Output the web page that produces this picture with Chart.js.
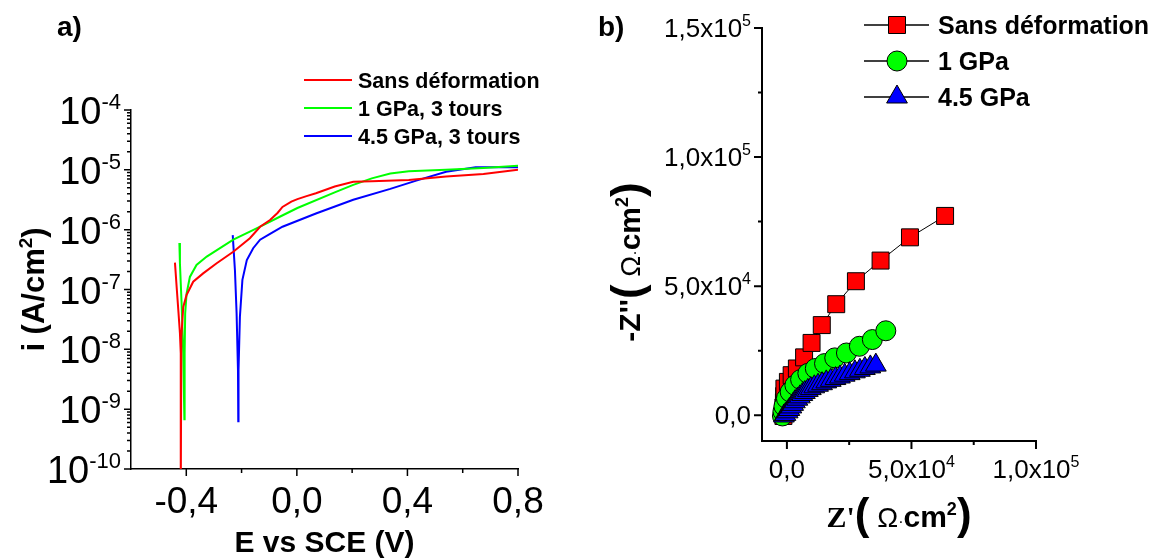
<!DOCTYPE html>
<html>
<head>
<meta charset="utf-8">
<script src="https://cdn.jsdelivr.net/npm/chart.js@4.4.0/dist/chart.umd.min.js"></script>
<style>
    html, body { margin: 0; padding: 0; background: #fff; }
    #wrap { position: relative; width: 1154px; height: 559px; }
    #wrap canvas { position: absolute; top: 0; }
</style>
</head>
<body>
<div id="wrap">
    <canvas id="chart-a" width="577" height="559" style="left:0"></canvas>
    <canvas id="chart-b" width="577" height="559" style="left:577px"></canvas>
</div>
<script>
// a) polarisation curves: potential (V vs SCE) and current density (A/cm2)
const potRed = [-0.441, -0.435, -0.428, -0.423, -0.420, -0.420, -0.418, -0.411, -0.399, -0.375, -0.339, -0.290, -0.230, -0.170, -0.133, -0.097, -0.070, -0.052, -0.020, 0.002, 0.035, 0.069, 0.137, 0.204, 0.271, 0.405, 0.540, 0.675, 0.800];
const curRed = [2.82e-7, 1.12e-7, 3.98e-8, 1.86e-8, 8.5e-9, 3.2e-11, 1.58e-8, 5.1e-8, 8.1e-8, 1.35e-7, 1.86e-7, 2.75e-7, 4.27e-7, 7.2e-7, 1.12e-6, 1.45e-6, 1.9e-6, 2.4e-6, 2.95e-6, 3.24e-6, 3.63e-6, 4.07e-6, 5.25e-6, 6.3e-6, 6.45e-6, 6.76e-6, 7.76e-6, 8.5e-6, 1.0e-5];
const potGreen = [-0.425, -0.423, -0.417, -0.411, -0.407, -0.406, -0.404, -0.399, -0.387, -0.363, -0.326, -0.278, -0.230, -0.170, -0.120, -0.060, 0.002, 0.137, 0.204, 0.271, 0.338, 0.405, 0.539, 0.675, 0.800];
const curGreen = [6.0e-7, 2.75e-7, 5.9e-8, 8.5e-9, 6.8e-10, 8.5e-9, 4.0e-8, 8.5e-8, 1.62e-7, 2.57e-7, 3.55e-7, 4.9e-7, 6.8e-7, 9.3e-7, 1.2e-6, 1.66e-6, 2.3e-6, 4.2e-6, 5.6e-6, 7.2e-6, 8.7e-6, 9.5e-6, 1.0e-5, 1.07e-5, 1.17e-5];
const potBlue = [-0.232, -0.224, -0.218, -0.213, -0.212, -0.211, -0.206, -0.197, -0.181, -0.158, -0.133, -0.097, -0.052, 0.069, 0.204, 0.338, 0.432, 0.540, 0.647, 0.800];
const curBlue = [8.1e-7, 2.1e-7, 4.0e-8, 4.5e-9, 6.3e-10, 4.5e-9, 3.5e-8, 1.45e-7, 3.1e-7, 4.9e-7, 6.8e-7, 8.5e-7, 1.12e-6, 1.86e-6, 3.16e-6, 4.8e-6, 6.6e-6, 9.3e-6, 1.1e-5, 1.1e-5];
const labelsA = ['Sans déformation', '1 GPa, 3 tours', '4.5 GPa, 3 tours'];

// b) Nyquist plots: Z' and -Z'' (ohm.cm2)
const zReRed = [-1.4e3, -1.5e3, -1.4e3, -1.2e3, -1.1e3, -1.0e3, 0.4e3, 1.9e3, 4.0e3, 6.9e3, 9.9e3, 1.40e4, 1.98e4, 2.77e4, 3.76e4, 4.94e4, 6.35e4];
const zImRed = [-0.3e3, 1.2e3, 3.0e3, 5.0e3, 7.4e3, 1.03e4, 1.29e4, 1.55e4, 1.81e4, 2.24e4, 2.80e4, 3.49e4, 4.30e4, 5.19e4, 5.99e4, 6.89e4, 7.72e4];
const zReGreen = [-1.8e3, -1.6e3, -1.2e3, -0.2e3, 1.3e3, 3.2e3, 5.5e3, 8.4e3, 1.14e4, 1.51e4, 1.92e4, 2.39e4, 2.91e4, 3.43e4, 3.97e4];
const zImGreen = [-0.3e3, 1.5e3, 3.5e3, 6.5e3, 9.0e3, 1.16e4, 1.38e4, 1.62e4, 1.81e4, 2.0e4, 2.22e4, 2.41e4, 2.67e4, 2.93e4, 3.27e4];
const zReBlue = [-1.2e3, -0.6e3, 0.3e3, 1.0e3, 1.8e3, 2.5e3, 3.2e3, 4.2e3, 5.2e3, 6.2e3, 7.2e3, 8.4e3, 9.6e3, 1.10e4, 1.25e4, 1.41e4, 1.58e4, 1.76e4, 1.95e4, 2.13e4, 2.32e4, 2.52e4, 2.73e4, 2.93e4, 3.13e4, 3.35e4, 3.57e4];
const zImBlue = [-0.3e3, 0.3e3, 1.3e3, 2.2e3, 3.2e3, 4.2e3, 5.2e3, 6.2e3, 7.1e3, 8.0e3, 8.8e3, 9.6e3, 1.03e4, 1.10e4, 1.16e4, 1.22e4, 1.29e4, 1.35e4, 1.42e4, 1.48e4, 1.55e4, 1.61e4, 1.68e4, 1.74e4, 1.81e4, 1.87e4, 1.94e4];
const labelsB = ['Sans déformation', '1 GPa', '4.5 GPa'];

// tick labels
const currentExps = [-4, -5, -6, -7, -8, -9, -10];
const potTicks = [-0.4, 0.0, 0.4, 0.8];
const potTickLabels = ['-0,4', '0,0', '0,4', '0,8'];
const potMinor = [-0.2, 0.2, 0.6];
const zReTicks = [0, 5e4, 1e5];
const zReTickLabels = [['0,0', ''], ['5,0x10', '4'], ['1,0x10', '5']];
const zReMinor = [2.5e4, 7.5e4];
const zImTicks = [0, 5e4, 1e5, 1.5e5];
const zImTickLabels = [['0,0', ''], ['5,0x10', '4'], ['1,0x10', '5'], ['1,5x10', '5']];
const zImMinor = [2.5e4, 7.5e4, 1.25e5];

const RED = '#ff0000', GREEN = '#00ff00', BLUE = '#0000ff';
const SANS = '"Liberation Sans", Arial, sans-serif';
const SERIF = '"Liberation Serif", "Times New Roman", serif';

function toXY(xs, ys) {
    return xs.map((v, i) => ({ x: v, y: ys[i] }));
}

// draws a row of text pieces [text, font, raise] starting/ending/centred at x
function drawRich(ctx, parts, x, y, align) {
    let total = 0;
    parts.forEach(p => { ctx.font = p[1]; total += ctx.measureText(p[0]).width; });
    let cx = align === 'right' ? x - total : (align === 'center' ? x - total / 2 : x);
    ctx.textAlign = 'left';
    ctx.textBaseline = 'alphabetic';
    parts.forEach(p => {
        ctx.font = p[1];
        ctx.fillText(p[0], cx, y - (p[2] || 0));
        cx += ctx.measureText(p[0]).width;
    });
}

function tickLine(ctx, x1, y1, x2, y2) {
    ctx.moveTo(x1, y1);
    ctx.lineTo(x2, y2);
}

// ---------- chart a decorations ----------
const decorA = {
    id: 'decorA',
    afterDraw(chart) {
        const { ctx, chartArea: a, scales: { x, y } } = chart;
        ctx.save();
        ctx.strokeStyle = '#000';
        ctx.fillStyle = '#000';
        ctx.lineWidth = 1.5;
        ctx.beginPath();
        currentExps.forEach(e => {
            const py = y.getPixelForValue(Math.pow(10, e));
            tickLine(ctx, a.left - 7, py, a.left, py);
            if (e < -4) {
                for (let k = 2; k <= 9; k++) {
                    const pm = y.getPixelForValue(k * Math.pow(10, e));
                    tickLine(ctx, a.left - 4, pm, a.left, pm);
                }
            }
        });
        potTicks.forEach(v => {
            const px = x.getPixelForValue(v);
            tickLine(ctx, px, a.bottom, px, a.bottom + 7);
        });
        potMinor.forEach(v => {
            const px = x.getPixelForValue(v);
            tickLine(ctx, px, a.bottom, px, a.bottom + 4);
        });
        ctx.stroke();

        // y tick labels 10^n
        currentExps.forEach(e => {
            const py = y.getPixelForValue(Math.pow(10, e));
            drawRich(ctx, [['10', '38px ' + SANS], [String(e), '22px ' + SANS, 15]], a.left - 10, py + 14, 'right');
        });
        // x tick labels
        potTicks.forEach((v, i) => {
            drawRich(ctx, [[potTickLabels[i], '37px ' + SANS]], x.getPixelForValue(v), a.bottom + 44, 'center');
        });

        // axis titles
        drawRich(ctx, [['E vs SCE (V)', 'bold 30px ' + SANS]], (a.left + a.right) / 2, 552, 'center');
        ctx.save();
        ctx.translate(44, (a.top + a.bottom) / 2);
        ctx.rotate(-Math.PI / 2);
        drawRich(ctx, [['i (A/cm', 'bold 31px ' + SANS], ['2', 'bold 19px ' + SANS, 12], [')', 'bold 31px ' + SANS]], 0, 0, 'center');
        ctx.restore();

        // panel label
        drawRich(ctx, [['a)', 'bold 28px ' + SANS]], 57, 36, 'left');

        // legend
        const colors = [RED, GREEN, BLUE];
        labelsA.forEach((t, i) => {
            const ly = 80 + i * 28;
            ctx.strokeStyle = colors[i];
            ctx.lineWidth = 2;
            ctx.beginPath();
            tickLine(ctx, 304, ly, 352, ly);
            ctx.stroke();
            drawRich(ctx, [[t, 'bold 21.5px ' + SANS]], 358, ly + 8, 'left');
        });
        ctx.restore();
    }
};

// ---------- chart b decorations ----------
function legendMarker(ctx, style, color, cx, cy) {
    ctx.fillStyle = color;
    ctx.strokeStyle = '#000';
    ctx.lineWidth = 1;
    ctx.beginPath();
    if (style === 'rect') {
        ctx.rect(cx - 8.5, cy - 8.5, 17, 17);
    } else if (style === 'circle') {
        ctx.arc(cx, cy, 10, 0, Math.PI * 2);
    } else {
        ctx.moveTo(cx, cy - 12);
        ctx.lineTo(cx + 10.4, cy + 6);
        ctx.lineTo(cx - 10.4, cy + 6);
        ctx.closePath();
    }
    ctx.fill();
    ctx.stroke();
}

const decorB = {
    id: 'decorB',
    afterDraw(chart) {
        const { ctx, chartArea: a, scales: { x, y } } = chart;
        ctx.save();
        ctx.strokeStyle = '#000';
        ctx.fillStyle = '#000';
        ctx.lineWidth = 2;
        ctx.beginPath();
        zImTicks.forEach(v => { const py = y.getPixelForValue(v); tickLine(ctx, a.left - 8, py, a.left, py); });
        zImMinor.forEach(v => { const py = y.getPixelForValue(v); tickLine(ctx, a.left - 4, py, a.left, py); });
        zReTicks.forEach(v => { const px = x.getPixelForValue(v); tickLine(ctx, px, a.bottom, px, a.bottom + 8); });
        zReMinor.forEach(v => { const px = x.getPixelForValue(v); tickLine(ctx, px, a.bottom, px, a.bottom + 4); });
        ctx.stroke();

        zImTicks.forEach((v, i) => {
            const lb = zImTickLabels[i];
            drawRich(ctx, [[lb[0], '26px ' + SANS], [lb[1], '16px ' + SANS, 11]], a.left - 11, y.getPixelForValue(v) + 9, 'right');
        });
        zReTicks.forEach((v, i) => {
            const lb = zReTickLabels[i];
            drawRich(ctx, [[lb[0], '26px ' + SANS], [lb[1], '16px ' + SANS, 11]], x.getPixelForValue(v), a.bottom + 37, 'center');
        });

        // axis titles
        const title = first => [
            first,
            ['(', 'bold 44px ' + SANS, -2],
            [' \u03A9', '28px ' + SANS],
            ['\u00B7', '16px ' + SANS],
            ['cm', 'bold 30px ' + SANS],
            ['2', 'bold 18px ' + SANS, 12],
            [')', 'bold 44px ' + SANS, -2]
        ];
        drawRich(ctx, title(["Z'", 'bold 30px ' + SERIF]), (a.left + a.right) / 2, 527, 'center');
        ctx.save();
        ctx.translate(640 - 577, 262);
        ctx.rotate(-Math.PI / 2);
        drawRich(ctx, title(["-Z''", 'bold 30px ' + SANS]), 0, 0, 'center');
        ctx.restore();

        // panel label
        drawRich(ctx, [['b)', 'bold 28px ' + SANS]], 598 - 577, 36, 'left');

        // legend
        const styles = ['rect', 'circle', 'triangle'];
        const colors = [RED, GREEN, BLUE];
        labelsB.forEach((t, i) => {
            const ly = 25 + i * 36;
            ctx.strokeStyle = '#000';
            ctx.lineWidth = 1.5;
            ctx.beginPath();
            tickLine(ctx, 864 - 577, ly, 929 - 577, ly);
            ctx.stroke();
            legendMarker(ctx, styles[i], colors[i], 897 - 577, ly);
            ctx.fillStyle = '#000';
            drawRich(ctx, [[t, 'bold 25px ' + SANS]], 938 - 577, ly + 9, 'left');
        });
        ctx.restore();
    }
};

function fixAxisX(height) {
    return s => { s.height = height; s.paddingLeft = 0; s.paddingRight = 0; };
}
function fixAxisY(width) {
    return s => { s.width = width; s.paddingTop = 0; s.paddingBottom = 0; };
}

const hiddenTicks = { display: false };
const noGrid = { display: false };

// Chart a
const chartA = new Chart(document.getElementById('chart-a'), {
    type: 'scatter',
    data: {
        datasets: [
            { label: labelsA[0], data: toXY(potRed, curRed), borderColor: RED },
            { label: labelsA[1], data: toXY(potGreen, curGreen), borderColor: GREEN },
            { label: labelsA[2], data: toXY(potBlue, curBlue), borderColor: BLUE }
        ].map(d => Object.assign(d, { showLine: true, borderWidth: 2, pointRadius: 0, tension: 0 }))
    },
    options: {
        responsive: false,
        animation: false,
        events: [],
        layout: { padding: { top: 110, right: 59, left: 0, bottom: 0 } },
        plugins: { legend: { display: false }, tooltip: { enabled: false } },
        scales: {
            x: {
                type: 'linear', min: -0.6, max: 0.8,
                grid: noGrid, ticks: hiddenTicks,
                border: { display: true, color: '#000', width: 1.5 },
                afterFit: fixAxisX(90)
            },
            y: {
                type: 'logarithmic', min: 1e-10, max: 1e-4,
                grid: noGrid, ticks: hiddenTicks,
                border: { display: true, color: '#000', width: 1.5 },
                afterFit: fixAxisY(131)
            }
        }
    },
    plugins: [decorA]
});

// Chart b
const chartB = new Chart(document.getElementById('chart-b'), {
    type: 'scatter',
    data: {
        datasets: [
            { label: labelsB[0], data: toXY(zReRed, zImRed), pointStyle: 'rect', pointRadius: 12, pointBackgroundColor: RED, order: 3 },
            { label: labelsB[1], data: toXY(zReGreen, zImGreen), pointStyle: 'circle', pointRadius: 10, pointBackgroundColor: GREEN, order: 2 },
            { label: labelsB[2], data: toXY(zReBlue, zImBlue), pointStyle: 'triangle', pointRadius: 12, pointBackgroundColor: BLUE, order: 1 }
        ].map(d => Object.assign(d, {
            showLine: true, borderColor: '#000', borderWidth: 1,
            pointBorderColor: '#000', pointBorderWidth: 1, clip: false
        }))
    },
    options: {
        responsive: false,
        animation: false,
        events: [],
        layout: { padding: { top: 28, right: 118, left: 0, bottom: 0 } },
        plugins: { legend: { display: false }, tooltip: { enabled: false } },
        scales: {
            x: {
                type: 'linear', min: -1e4, max: 1e5,
                grid: noGrid, ticks: hiddenTicks,
                border: { display: true, color: '#000', width: 2 },
                afterFit: fixAxisX(118)
            },
            y: {
                type: 'linear', min: -1e4, max: 1.5e5,
                grid: noGrid, ticks: hiddenTicks,
                border: { display: true, color: '#000', width: 2 },
                afterFit: fixAxisY(185)
            }
        }
    },
    plugins: [decorB]
});
</script>
</body>
</html>
